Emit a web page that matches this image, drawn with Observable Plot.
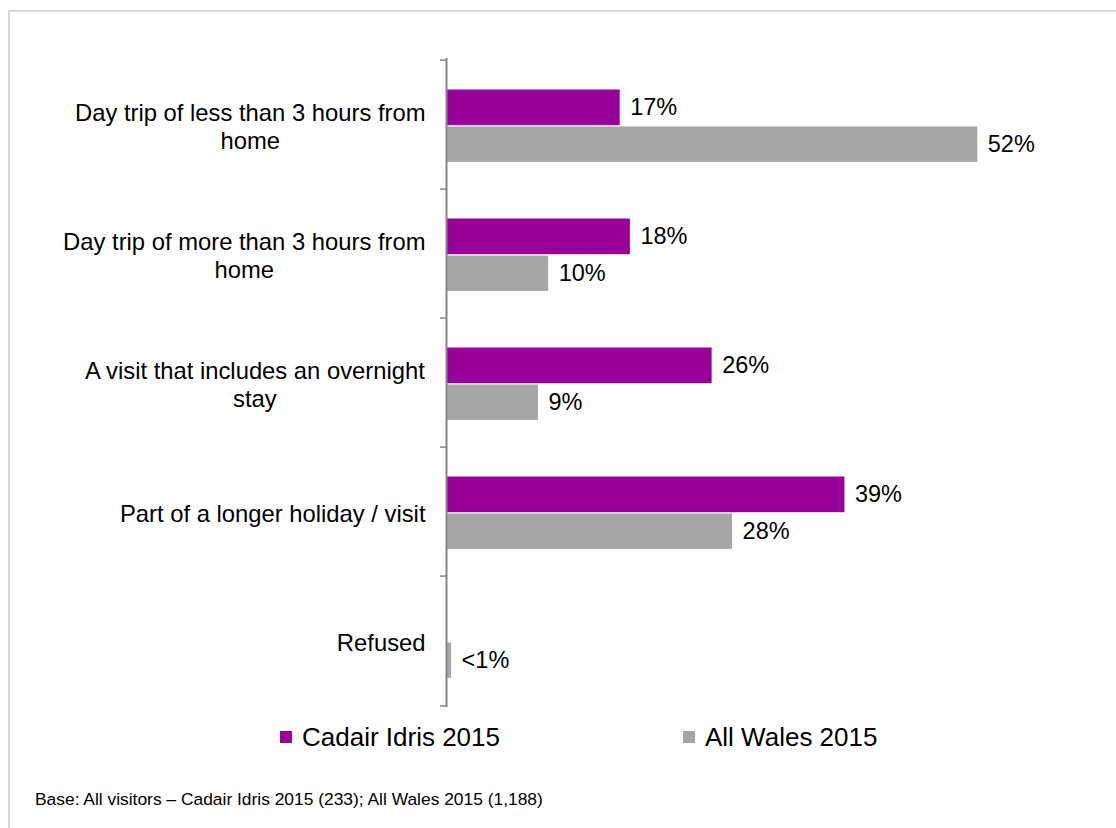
<!DOCTYPE html>
<html>
<head>
<meta charset="utf-8">
<script src="https://cdn.jsdelivr.net/npm/d3@7"></script>
<script src="https://cdn.jsdelivr.net/npm/@observablehq/plot@0.6"></script>
<style>
  html, body { margin: 0; padding: 0; background: #fff; }
  body { width: 1116px; height: 828px; overflow: hidden; position: relative; font-family: "Liberation Sans", Arial, sans-serif; }
  #frame { position: absolute; left: 8px; top: 10px; width: 1200px; height: 900px; border: 2px solid #d9d9d9; box-sizing: border-box; }
  #chart { position: absolute; left: 0; top: 0; }
  .legend-item { position: absolute; top: 722px; height: 30px; display: flex; align-items: center; font-size: 26px; color: #000; white-space: nowrap; }
  .swatch { width: 12px; height: 12px; margin-right: 10px; flex: none; }
  #caption { position: absolute; left: 35px; top: 789px; font-size: 17.4px; color: #000; white-space: nowrap; }
</style>
</head>
<body>
<div id="frame"></div>
<div id="chart"></div>
<div id="legend"></div>
<div id="caption"></div>
<script>
// ---- data ----
const categories = [
  "Day trip of less than 3 hours from home",
  "Day trip of more than 3 hours from home",
  "A visit that includes an overnight stay",
  "Part of a longer holiday / visit",
  "Refused"
];
const categoryLines = [
  ["Day trip of less than 3 hours from", "home"],
  ["Day trip of more than 3 hours from", "home"],
  ["A visit that includes an overnight", "stay"],
  ["Part of a longer holiday / visit"],
  ["Refused"]
];
const seriesNames = ["Cadair Idris 2015", "All Wales 2015"];
const cadairValues = [17, 18, 26, 39, null];
const walesValues = [52, 10, 9, 28, 0.5];
const cadairLabels = ["17%", "18%", "26%", "39%", ""];
const walesLabels = ["52%", "10%", "9%", "28%", "<1%"];
const captionText = "Base: All visitors \u2013 Cadair Idris 2015 (233); All Wales 2015 (1,188)";

// ---- styles / layout ----
const colors = ["#990099", "#A6A6A6"];
const axisColor = "#868686";
const font = "'Liberation Sans', Arial, sans-serif";
const catSize = 23.8;
const valSize = 23.5;
const W = 1116, H = 715, mTop = 58, mBottom = 8, mLeft = 446, mRight = 57;
const bw = (H - mTop - mBottom) / categories.length;
const purpleTop = 29.5, purpleBottom = 66;   // within band
const grayTop = 66.5, grayBottom = 102.7;

const cadairRows = categories.map((c, i) => ({category: c, value: cadairValues[i], label: cadairLabels[i]})).filter(d => d.value != null);
const walesRows = categories.map((c, i) => ({category: c, value: walesValues[i], label: walesLabels[i]})).filter(d => d.value != null);

// measure label block widths
const ctx = document.createElement("canvas").getContext("2d");
ctx.font = `${catSize}px ${font}`;
const blockWidth = categoryLines.map(lines => Math.max(...lines.map(l => ctx.measureText(l).width)));

const labelMarks = categories.map((c, i) =>
  Plot.text([c], {
    y: d => d,
    frameAnchor: "left",
    text: () => categoryLines[i].join("\n"),
    textAnchor: "middle",
    lineAnchor: "middle",
    lineHeight: 1.18,
    dx: -(21 + blockWidth[i] / 2),
    dy: 1,
    fontSize: catSize,
    fill: "#000"
  })
);

const plot = Plot.plot({
  width: W, height: H,
  marginTop: mTop, marginBottom: mBottom, marginLeft: mLeft, marginRight: mRight,
  x: {domain: [0, 60], axis: null},
  y: {domain: categories, axis: null, padding: 0},
  style: {fontFamily: font, fontSize: valSize + "px", background: "transparent", color: "#000"},
  marks: [
    Plot.barX(cadairRows, {x: "value", y: "category", fill: colors[0], insetTop: purpleTop, insetBottom: bw - purpleBottom}),
    Plot.barX(walesRows, {x: "value", y: "category", fill: colors[1], insetTop: grayTop, insetBottom: bw - grayBottom}),
    Plot.text(cadairRows, {x: "value", y: "category", text: "label", textAnchor: "start", dx: 10, dy: (purpleTop + purpleBottom) / 2 - bw / 2, fontSize: valSize, fill: "#000"}),
    Plot.text(walesRows, {x: "value", y: "category", text: "label", textAnchor: "start", dx: 10, dy: (grayTop + grayBottom) / 2 - bw / 2, fontSize: valSize, fill: "#000"}),
    Plot.ruleX([0], {stroke: axisColor, strokeWidth: 2}),
    Plot.ruleY(categories, {y: d => d, x1: 0, x2: 0, insetLeft: -6, dy: -bw / 2, stroke: axisColor, strokeWidth: 1.5}),
    Plot.ruleY(categories.slice(-1), {y: d => d, x1: 0, x2: 0, insetLeft: -6, dy: bw / 2, stroke: axisColor, strokeWidth: 1.5}),
    ...labelMarks
  ]
});
document.getElementById("chart").appendChild(plot);

// legend
const legendX = [280, 683];
const legend = document.getElementById("legend");
seriesNames.forEach((name, i) => {
  const item = document.createElement("div");
  item.className = "legend-item";
  item.style.left = legendX[i] + "px";
  const sw = document.createElement("span");
  sw.className = "swatch";
  sw.style.background = colors[i];
  const tx = document.createElement("span");
  tx.textContent = name;
  item.appendChild(sw);
  item.appendChild(tx);
  legend.appendChild(item);
});
document.getElementById("caption").textContent = captionText;
</script>
</body>
</html>
